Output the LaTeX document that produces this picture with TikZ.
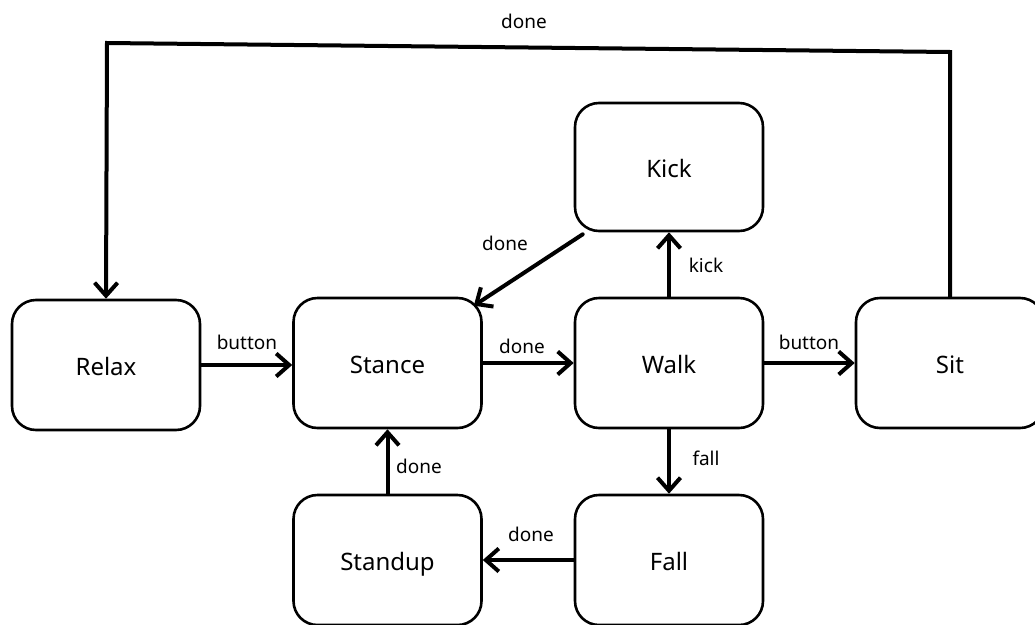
\documentclass[tikz,border=0pt]{standalone}
\usepackage{fontspec}
\setmainfont{Noto Sans}
\usetikzlibrary{arrows.meta}
\begin{document}
\begin{tikzpicture}[x=1pt,y=-1pt,
  state/.style={draw, line width=2.6pt, rounded corners=24pt, minimum width=188pt, minimum height=130pt, font=\fontsize{24}{28}\selectfont, inner sep=0pt, text height=22pt, text depth=1pt},
  tr/.style={line width=4pt, -{Straight Barb[length=13pt,width=23pt]}, line cap=round, line join=round},
  lbl/.style={font=\fontsize{19}{22}\selectfont, inner sep=0pt}]
\clip (0,0) rectangle (1035,624);
\fill[white] (0,0) rectangle (1035,624);
\node[state] (relax)   at (106,365) {Relax};
\node[state] (stance)  at (387.5,363) {Stance};
\node[state] (walk)    at (669,363) {Walk};
\node[state] (sit)     at (950,363) {Sit};
\node[state, minimum height=128pt] (kick) at (669,167) {Kick};
\node[state] (fall)    at (669,560) {Fall};
\node[state] (standup) at (387.5,560) {Standup};
\coordinate (c1) at (950,52);
\coordinate (c2) at (107,43);
\draw[tr] (relax.east) -- (relax.east -| stance.west);
\draw[tr] (stance.east) -- (walk.west);
\draw[tr] (walk.east) -- (sit.west);
\draw[tr] (walk.north) -- (kick.south);
\draw[tr] ([xshift=9pt,yshift=-2pt]kick.south west) -- ([xshift=-9pt,yshift=-9pt]stance.north east);
\draw[tr] (walk.south) -- (fall.north);
\draw[tr] (fall.west) -- (standup.east);
\draw[tr] (standup.north) -- (stance.south);
\draw[tr, line join=miter] (sit.north) -- (c1) -- (c2) -- (relax.north);
\node[lbl] (l1) at (247,342) {button};
\node[lbl] (l2) at (522,346) {done};
\node[lbl] (l3) at (809,342) {button};
\node[lbl] (l4) at (706,265) {kick};
\node[lbl] (l5) at (505,243) {done};
\node[lbl] (l6) at (706,458) {fall};
\node[lbl] (l7) at (531,534) {done};
\node[lbl] (l8) at (419,466) {done};
\node[lbl] (l9) at (524,21) {done};
\end{tikzpicture}
\end{document}
